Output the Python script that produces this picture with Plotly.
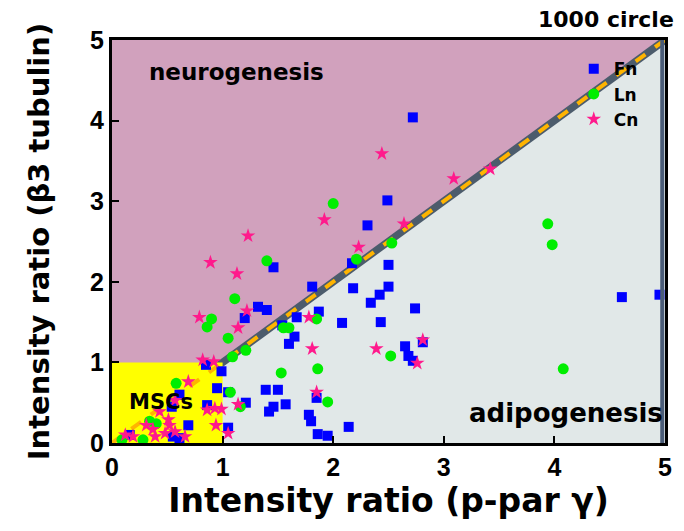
import plotly.graph_objects as go

# Intensity ratios per cell: x = p-PPAR gamma, y = beta3 tubulin
fn_x = [2.72, 2.49, 2.31, 2.17, 2.50, 2.18, 2.50, 2.42, 2.34, 2.74, 2.08, 2.43, 2.65, 2.81,
        2.68, 2.72, 2.14, 4.61, 4.95, 1.46, 1.81, 1.32, 1.40, 1.20, 1.67, 1.87, 1.54, 1.65,
        1.60, 0.85, 0.99, 0.95, 1.05, 1.39, 1.50, 1.21, 1.46, 1.42, 1.57, 1.78, 1.80, 1.85,
        1.86, 1.95, 0.86, 1.05, 0.61, 0.54, 0.69, 0.55, 0.61, 0.16]
fn_y = [4.04, 3.01, 2.70, 2.23, 2.21, 1.92, 1.94, 1.84, 1.74, 1.67, 1.49, 1.50, 1.20, 1.25,
        1.08, 1.02, 0.20, 1.81, 1.84, 2.18, 1.94, 1.69, 1.65, 1.55, 1.56, 1.63, 1.46, 1.32,
        1.23, 0.97, 0.89, 0.68, 0.63, 0.66, 0.66, 0.50, 0.45, 0.39, 0.48, 0.35, 0.27, 0.56,
        0.11, 0.09, 0.47, 0.19, 0.60, 0.45, 0.22, 0.08, 0.06, 0.10]

ln_x = [2.00, 2.53, 2.21, 2.52, 1.95, 3.94, 3.98, 4.08, 1.40, 1.11, 0.90, 0.86, 1.05, 1.85,
        1.55, 1.60, 1.07, 1.16, 1.53, 1.86, 1.21, 1.09, 0.58, 0.34, 0.40, 0.09, 0.28]
ln_y = [2.97, 2.48, 2.28, 1.08, 0.51, 2.72, 2.46, 0.92, 2.26, 1.79, 1.54, 1.44, 1.30, 1.54,
        1.43, 1.43, 0.63, 0.45, 0.87, 0.92, 1.15, 1.07, 0.74, 0.27, 0.24, 0.04, 0.04]

cn_x = [2.44, 3.09, 3.42, 2.64, 2.23, 1.92, 1.23, 0.89, 1.13, 2.39, 2.76, 2.81, 1.78, 1.22,
        1.14, 0.79, 1.81, 0.82, 0.92, 1.14, 1.85, 0.86, 0.93, 0.99, 0.94, 1.05, 0.69, 0.57,
        0.43, 0.31, 0.51, 0.52, 0.48, 0.39, 0.57, 0.66, 0.12, 0.19, 0.37]
cn_y = [3.59, 3.28, 3.40, 2.72, 2.43, 2.77, 2.57, 2.24, 2.10, 1.17, 0.99, 1.28, 1.56, 1.64,
        1.43, 1.56, 1.17, 1.03, 1.01, 0.48, 0.63, 0.41, 0.43, 0.42, 0.22, 0.12, 0.76, 0.53,
        0.39, 0.22, 0.29, 0.22, 0.12, 0.08, 0.14, 0.08, 0.10, 0.08, 0.17]

ticks = [0, 1, 2, 3, 4, 5]
AX_MAX = 5      # both ratios shown from 0 to 5
MSC_LIMIT = 1   # undifferentiated zone: both ratios below 1

FONT = "DejaVu Sans"
TICK_FONT = "Liberation Sans"

fig = go.Figure()

fig.add_trace(go.Scatter(x=fn_x, y=fn_y, mode="markers", name="Fn",
                         marker=dict(symbol="square", size=10, color="#0000FF",
                                     line=dict(width=0))))
fig.add_trace(go.Scatter(x=ln_x, y=ln_y, mode="markers", name="Ln",
                         marker=dict(symbol="circle", size=11, color="#00EE00",
                                     line=dict(width=0))))
fig.add_trace(go.Scatter(x=cn_x, y=cn_y, mode="markers", name="Cn",
                         marker=dict(symbol="star", size=11, color="#FF1A8C",
                                     line=dict(width=0))))

shapes = [
    # neurogenesis half (above the diagonal)
    dict(type="path", path=f"M 0 0 L 0 {AX_MAX} L {AX_MAX} {AX_MAX} Z",
         fillcolor="#D1A1BD", line=dict(width=0), layer="below"),
    # adipogenesis half (below the diagonal)
    dict(type="path", path=f"M 0 0 L {AX_MAX} 0 L {AX_MAX} {AX_MAX} Z",
         fillcolor="#E1E8E8", line=dict(width=0), layer="below"),
    # dark band of the diagonal
    dict(type="line", x0=0, y0=0, x1=AX_MAX, y1=AX_MAX,
         line=dict(color="#4C5C6C", width=7.5), layer="below"),
    # MSC box
    dict(type="rect", x0=0, y0=0, x1=MSC_LIMIT, y1=MSC_LIMIT,
         fillcolor="#FFFF00", line=dict(width=0), layer="below"),
    # orange dashes along the diagonal
    dict(type="line", x0=0, y0=0, x1=AX_MAX, y1=AX_MAX,
         line=dict(color="#FFB400", width=4, dash="dash"), layer="below"),
    # slate right edge
    dict(type="line", xref="paper", yref="paper", x0=0.995, y0=0, x1=0.995, y1=1,
         line=dict(color="#4A5C78", width=4), layer="above"),
]

annotations = [
    dict(text="neurogenesis", x=0.32, y=4.6, xref="x", yref="y", xanchor="left",
         yanchor="middle", showarrow=False,
         font=dict(family=FONT, size=23, color="black", weight="bold")),
    dict(text="adipogenesis", x=3.21, y=0.37, xref="x", yref="y", xanchor="left",
         yanchor="middle", showarrow=False,
         font=dict(family=FONT, size=26, color="black", weight="bold")),
    dict(text="MSCs", x=0.135, y=0.51, xref="x", yref="y", xanchor="left",
         yanchor="middle", showarrow=False,
         font=dict(family=FONT, size=21, color="black", weight="bold")),
    dict(text="1000 circle", x=1.02, y=1.05, xref="paper", yref="paper", xanchor="right",
         yanchor="middle", showarrow=False,
         font=dict(family=FONT, size=22, color="black", weight="bold")),
]

axis_common = dict(
    range=[0, AX_MAX], tickvals=ticks, ticktext=[str(t) for t in ticks],
    ticks="inside", ticklen=7, tickwidth=2, tickcolor="black",
    showline=True, linecolor="black", linewidth=3, mirror=True,
    showgrid=False, zeroline=False, fixedrange=True,
    tickfont=dict(family=TICK_FONT, size=25, color="black", weight="bold"),
)

fig.update_layout(
    width=684, height=531,
    margin=dict(l=112, r=17, t=40, b=88),
    paper_bgcolor="white", plot_bgcolor="white",
    shapes=shapes, annotations=annotations,
    xaxis=dict(axis_common,
               title=dict(text="Intensity ratio (p-par \u03b3)", standoff=0,
                          font=dict(family=FONT, size=33, color="black", weight="bold"))),
    yaxis=dict(axis_common,
               title=dict(text="Intensity ratio (\u03b23 tubulin)", standoff=32,
                          font=dict(family=FONT, size=29, color="black", weight="bold"))),
    legend=dict(x=0.835, y=0.972, xanchor="left", yanchor="top",
                bgcolor="rgba(0,0,0,0)", borderwidth=0,
                font=dict(family=FONT, size=17, color="black", weight="bold"),
                itemwidth=30, tracegroupgap=0),
    showlegend=True,
)

fig.write_html("out.html")
